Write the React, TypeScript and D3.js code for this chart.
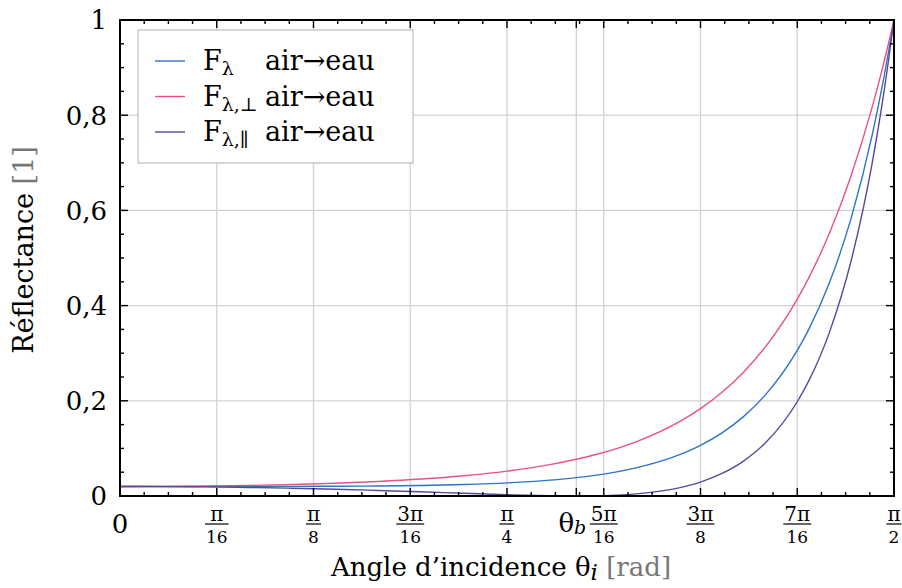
import React, { useEffect, useRef } from "react";
import * as d3 from "d3";

// angle d'incidence (degrés) et réflectances (air -> eau)
const angles = [0, 5, 10, 15, 20, 25, 30, 35, 40, 45, 50, 53.06, 55, 60, 65, 67.5, 70, 72.5, 75, 78.75, 80, 82.5, 85, 87.5, 88.75, 90];
const rPerp = [0.0201, 0.0203, 0.021, 0.0222, 0.0241, 0.0268, 0.0305, 0.0356, 0.0426, 0.0523, 0.066, 0.0771, 0.0855, 0.1139, 0.1557, 0.1837, 0.218, 0.2602, 0.3122, 0.4136, 0.4552, 0.5525, 0.6724, 0.8196, 0.9053, 1];
const rPar = [0.0201, 0.0198, 0.0191, 0.018, 0.0164, 0.0143, 0.0117, 0.0088, 0.0057, 0.0027, 0.0005, 0, 0.0003, 0.0044, 0.0172, 0.0293, 0.0473, 0.0733, 0.1107, 0.198, 0.2386, 0.3443, 0.4931, 0.703, 0.8385, 1];
const rMean = [0.0201, 0.0201, 0.0201, 0.0201, 0.0202, 0.0205, 0.0211, 0.0222, 0.0242, 0.0275, 0.0333, 0.0386, 0.0429, 0.0591, 0.0864, 0.1065, 0.1327, 0.1668, 0.2114, 0.3058, 0.3469, 0.4484, 0.5827, 0.7613, 0.8719, 1];

// graduations de l'axe x (multiples de pi/16)
const xTicks = [0, 11.25, 22.5, 33.75, 45, 56.25, 67.5, 78.75, 90];
const xTickNum = ["0", "π", "π", "3π", "π", "5π", "3π", "7π", "π"];
const xTickDen = ["", "16", "8", "16", "4", "16", "8", "16", "2"];
const thetaB = 53.06; // angle de Brewster

const yTicks = [0, 0.2, 0.4, 0.6, 0.8, 1];
const yTickLabels = ["0", "0,2", "0,4", "0,6", "0,8", "1"];

const seriesNames = ["λ", "λ,⊥", "λ,∥"];
const seriesColors = ["#2e74c6", "#e9508a", "#5c4596"];

const FONT = "'DejaVu Serif', serif";

const App = () => {
  const svgRef = useRef<SVGSVGElement>(null);

  useEffect(() => {
    const width = 902;
    const height = 588;
    const margin = { top: 20, right: 8, bottom: 92, left: 120 };
    const svg = d3.select(svgRef.current);
    svg.selectAll("*").remove();
    svg.attr("width", width).attr("height", height);

    const x = d3.scaleLinear().domain([0, 90]).range([margin.left, width - margin.right]);
    const y = d3.scaleLinear().domain([0, 1]).range([height - margin.bottom, margin.top]);
    const [x0, x1] = x.range();
    const [y0, y1] = y.range();

    svg.append("rect").attr("width", width).attr("height", height).attr("fill", "#fff");

    // grille
    const grid = svg.append("g").attr("stroke", "#d2d2d2").attr("stroke-width", 1.3);
    [...xTicks.slice(1, -1), thetaB].forEach((t) => {
      grid.append("line").attr("x1", x(t)).attr("x2", x(t)).attr("y1", y1).attr("y2", y0);
    });
    yTicks.slice(1, -1).forEach((t) => {
      grid.append("line").attr("x1", x0).attr("x2", x1).attr("y1", y(t)).attr("y2", y(t));
    });

    // courbes
    const series = [rMean, rPerp, rPar];
    const line = d3
      .line<number>()
      .x((_, i) => x(angles[i]))
      .y((d) => y(d))
      .curve(d3.curveMonotoneX);
    series.forEach((s, k) => {
      svg
        .append("path")
        .datum(s)
        .attr("d", line)
        .attr("fill", "none")
        .attr("stroke", seriesColors[k])
        .attr("stroke-width", 1.4);
    });

    // graduations intérieures sur les quatre côtés
    const ticks = svg.append("g").attr("stroke", "#000").attr("stroke-width", 1.4);
    const xMinor = d3.range(0, 90.01, 90 / 32);
    xMinor.forEach((t, i) => {
      const len = i % 4 === 0 ? 8 : 4;
      ticks.append("line").attr("x1", x(t)).attr("x2", x(t)).attr("y1", y0).attr("y2", y0 - len);
      ticks.append("line").attr("x1", x(t)).attr("x2", x(t)).attr("y1", y1).attr("y2", y1 + len);
    });
    ticks.append("line").attr("x1", x(thetaB)).attr("x2", x(thetaB)).attr("y1", y0).attr("y2", y0 - 8);
    ticks.append("line").attr("x1", x(thetaB)).attr("x2", x(thetaB)).attr("y1", y1).attr("y2", y1 + 8);
    const yMinor = d3.range(0, 1.001, 0.05);
    yMinor.forEach((t, i) => {
      const len = i % 4 === 0 ? 8 : 4;
      ticks.append("line").attr("x1", x0).attr("x2", x0 + len).attr("y1", y(t)).attr("y2", y(t));
      ticks.append("line").attr("x1", x1).attr("x2", x1 - len).attr("y1", y(t)).attr("y2", y(t));
    });

    // cadre
    svg
      .append("rect")
      .attr("x", x0)
      .attr("y", y1)
      .attr("width", x1 - x0)
      .attr("height", y0 - y1)
      .attr("fill", "none")
      .attr("stroke", "#000")
      .attr("stroke-width", 2);

    // étiquettes y
    yTicks.forEach((t, i) => {
      svg
        .append("text")
        .attr("x", 107)
        .attr("y", y(t))
        .attr("dy", "0.36em")
        .attr("text-anchor", "end")
        .style("font-family", FONT)
        .style("font-size", "26px")
        .text(yTickLabels[i]);
    });

    // étiquettes x (fractions)
    const barY = 524;
    xTicks.forEach((t, i) => {
      const cx = x(t);
      if (!xTickDen[i]) {
        svg
          .append("text")
          .attr("x", cx)
          .attr("y", barY)
          .attr("dy", "0.36em")
          .attr("text-anchor", "middle")
          .style("font-family", FONT)
          .style("font-size", "26px")
          .text(xTickNum[i]);
        return;
      }
      const num = svg
        .append("text")
        .attr("x", cx)
        .attr("y", barY - 3)
        .attr("text-anchor", "middle")
        .style("font-family", FONT)
        .style("font-size", "20px")
        .text(xTickNum[i]);
      const den = svg
        .append("text")
        .attr("x", cx)
        .attr("y", barY + 19)
        .attr("text-anchor", "middle")
        .style("font-family", FONT)
        .style("font-size", "17px")
        .text(xTickDen[i]);
      const w = Math.max(
        (num.node() as SVGTextElement).getComputedTextLength(),
        (den.node() as SVGTextElement).getComputedTextLength()
      );
      svg
        .append("line")
        .attr("x1", cx - w / 2 - 1)
        .attr("x2", cx + w / 2 + 1)
        .attr("y1", barY)
        .attr("y2", barY)
        .attr("stroke", "#000")
        .attr("stroke-width", 1.2);
    });

    // θb
    const tb = svg
      .append("text")
      .attr("x", x(thetaB) - 4)
      .attr("y", barY + 8)
      .attr("text-anchor", "middle")
      .style("font-family", FONT)
      .style("font-size", "26px");
    tb.append("tspan").text("θ");
    tb.append("tspan").attr("dy", 2).style("font-style", "italic").style("font-size", "19px").text("b");

    // titres des axes
    const xt = svg
      .append("text")
      .attr("x", 501)
      .attr("y", 576)
      .attr("text-anchor", "middle")
      .style("font-family", FONT)
      .style("font-size", "26px");
    xt.append("tspan").text("Angle d’incidence θ");
    xt.append("tspan").style("font-style", "italic").attr("dy", 4).style("font-size", "23px").text("i");
    xt.append("tspan").attr("dy", -4).attr("fill", "#777").text(" [rad]");

    const yt = svg
      .append("text")
      .attr("transform", `translate(33, 250) rotate(-90)`)
      .attr("text-anchor", "middle")
      .style("font-family", FONT)
      .style("font-size", "27px");
    yt.append("tspan").text("Réflectance");
    yt.append("tspan").attr("fill", "#777").text(" [1]");

    // légende
    const legend = svg.append("g");
    legend
      .append("rect")
      .attr("x", 138)
      .attr("y", 30)
      .attr("width", 275)
      .attr("height", 133)
      .attr("fill", "#fff")
      .attr("stroke", "#bdbdbd")
      .attr("stroke-width", 1.2);
    seriesNames.forEach((name, i) => {
      const ly = 61 + i * 35.5;
      legend
        .append("line")
        .attr("x1", 155)
        .attr("x2", 185)
        .attr("y1", ly)
        .attr("y2", ly)
        .attr("stroke", seriesColors[i])
        .attr("stroke-width", 1.4);
      const t = legend
        .append("text")
        .attr("x", 203)
        .attr("y", ly + 9)
        .style("font-family", FONT)
        .style("font-size", "27px");
      t.append("tspan").text("F");
      t.append("tspan").attr("dy", 5).style("font-size", "19px").text(name);
      legend
        .append("text")
        .attr("x", 265)
        .attr("y", ly + 9)
        .style("font-family", FONT)
        .style("font-size", "27px")
        .text("air→eau");
    });
  }, []);

  return (
    <svg
      ref={svgRef}
      style={{ position: "absolute", left: 0, top: 0, display: "block" }}
    ></svg>
  );
};

export default App;
